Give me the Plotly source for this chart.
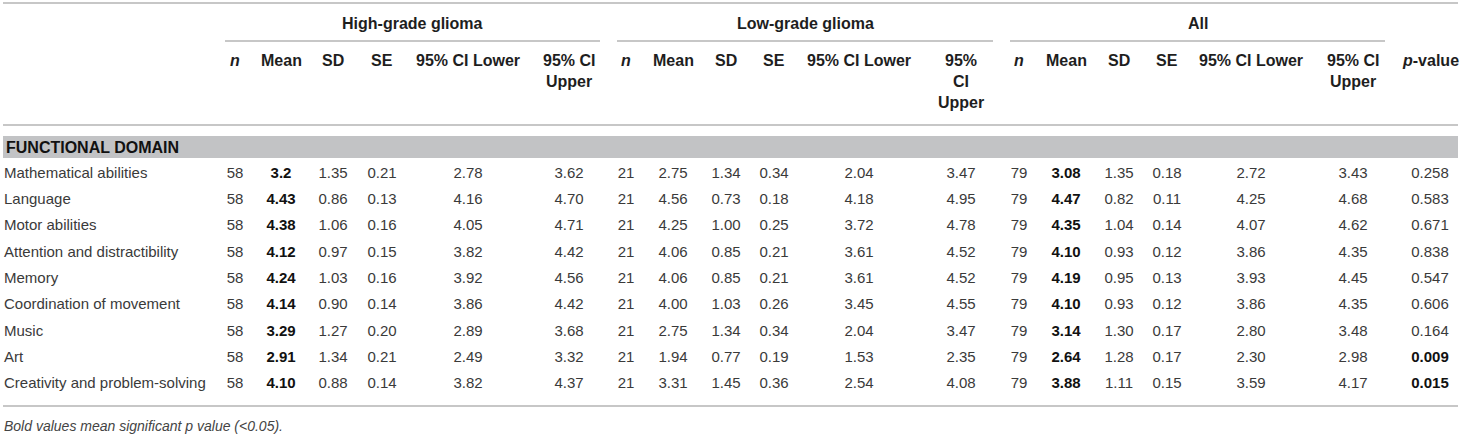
import plotly.graph_objects as go

# table data
domains = ['Mathematical abilities', 'Language', 'Motor abilities',
           'Attention and distractibility', 'Memory', 'Coordination of movement',
           'Music', 'Art', 'Creativity and problem-solving']

hgg_n = ['58'] * 9
hgg_mean = ['3.2', '4.43', '4.38', '4.12', '4.24', '4.14', '3.29', '2.91', '4.10']
hgg_sd = ['1.35', '0.86', '1.06', '0.97', '1.03', '0.90', '1.27', '1.34', '0.88']
hgg_se = ['0.21', '0.13', '0.16', '0.15', '0.16', '0.14', '0.20', '0.21', '0.14']
hgg_lo = ['2.78', '4.16', '4.05', '3.82', '3.92', '3.86', '2.89', '2.49', '3.82']
hgg_hi = ['3.62', '4.70', '4.71', '4.42', '4.56', '4.42', '3.68', '3.32', '4.37']

lgg_n = ['21'] * 9
lgg_mean = ['2.75', '4.56', '4.25', '4.06', '4.06', '4.00', '2.75', '1.94', '3.31']
lgg_sd = ['1.34', '0.73', '1.00', '0.85', '0.85', '1.03', '1.34', '0.77', '1.45']
lgg_se = ['0.34', '0.18', '0.25', '0.21', '0.21', '0.26', '0.34', '0.19', '0.36']
lgg_lo = ['2.04', '4.18', '3.72', '3.61', '3.61', '3.45', '2.04', '1.53', '2.54']
lgg_hi = ['3.47', '4.95', '4.78', '4.52', '4.52', '4.55', '3.47', '2.35', '4.08']

all_n = ['79'] * 9
all_mean = ['3.08', '4.47', '4.35', '4.10', '4.19', '4.10', '3.14', '2.64', '3.88']
all_sd = ['1.35', '0.82', '1.04', '0.93', '0.95', '0.93', '1.30', '1.28', '1.11']
all_se = ['0.18', '0.11', '0.14', '0.12', '0.13', '0.12', '0.17', '0.17', '0.15']
all_lo = ['2.72', '4.25', '4.07', '3.86', '3.93', '3.86', '2.80', '2.30', '3.59']
all_hi = ['3.43', '4.68', '4.62', '4.35', '4.45', '4.35', '3.48', '2.98', '4.17']

p_values = ['0.258', '0.583', '0.671', '0.838', '0.547', '0.606', '0.164', '0.009', '0.015']

groups = ['High-grade glioma', 'Low-grade glioma', 'All']
section = 'FUNCTIONAL DOMAIN'
footnote = 'Bold values mean significant p value (<0.05).'

# layout (pixel positions on a 1462 x 434 canvas)
W, H = 1462, 434
FONT = 'Liberation Sans, Arial, sans-serif'
TXT = '#3a3a3a'
HEAD = '#1e1e1e'
LINE = '#b4b4b4'
row_y0, row_dy = 174, 26.3

columns = [
    # (values, x, bold rule)
    (hgg_n, 235, None), (hgg_mean, 281, 'all'), (hgg_sd, 333, None), (hgg_se, 382, None),
    (hgg_lo, 468, None), (hgg_hi, 569, None),
    (lgg_n, 626, None), (lgg_mean, 673, None), (lgg_sd, 726, None), (lgg_se, 774, None),
    (lgg_lo, 859, None), (lgg_hi, 961, None),
    (all_n, 1019, None), (all_mean, 1066, 'all'), (all_sd, 1119, None), (all_se, 1167, None),
    (all_lo, 1251, None), (all_hi, 1353, None),
    (p_values, 1430, 'sig'),
]

header_cols = [
    (['<i>n</i>'], 235), (['Mean'], 281), (['SD'], 333), (['SE'], 382),
    (['95% CI Lower'], 468), (['95% CI', 'Upper'], 569),
    (['<i>n</i>'], 626), (['Mean'], 673), (['SD'], 726), (['SE'], 774),
    (['95% CI Lower'], 859), (['95%', 'CI', 'Upper'], 961),
    (['<i>n</i>'], 1019), (['Mean'], 1066), (['SD'], 1119), (['SE'], 1167),
    (['95% CI Lower'], 1251), (['95% CI', 'Upper'], 1353),
    (['<i>p</i>-value'], 1430),
]
group_spans = [(225, 600), (617, 993), (1010, 1385)]

row_y = [row_y0 + i * row_dy for i in range(len(domains))]

fig = go.Figure()

# row labels
fig.add_trace(go.Scatter(
    x=[4] * len(domains), y=row_y, text=domains, mode='text',
    textposition='middle right', textfont=dict(family=FONT, size=15, color=TXT),
    hoverinfo='skip', showlegend=False))

# value columns
for vals, cx, rule in columns:
    texts = []
    for v in vals:
        bold = rule == 'all' or (rule == 'sig' and float(v) < 0.05)
        texts.append('<b>%s</b>' % v if bold else v)
    colors = ['#111111' if t.startswith('<b>') else TXT for t in texts]
    fig.add_trace(go.Scatter(
        x=[cx] * len(vals), y=row_y, text=texts, mode='text',
        textposition='middle center', textfont=dict(family=FONT, size=15, color=colors),
        hoverinfo='skip', showlegend=False))

annotations = []
for name, (x0, x1) in zip(groups, group_spans):
    annotations.append(dict(x=(x0 + x1) / 2, y=23, text='<b>%s</b>' % name))
for lines, cx in header_cols:
    for k, line in enumerate(lines):
        annotations.append(dict(x=cx, y=60 + k * 21, text='<b>%s</b>' % line))
for a in annotations:
    a.update(xref='x', yref='y', showarrow=False, xanchor='center', yanchor='middle',
             font=dict(family=FONT, size=16, color=HEAD))

annotations.append(dict(x=4, y=147, xref='x', yref='y', text='<b>%s</b>' % section,
                        showarrow=False, xanchor='left', yanchor='middle',
                        font=dict(family=FONT, size=16, color='#111111')))
annotations.append(dict(x=2, y=426, xref='x', yref='y', text='<i>%s</i>' % footnote,
                        showarrow=False, xanchor='left', yanchor='middle',
                        font=dict(family=FONT, size=14, color='#444444')))

shapes = [
    dict(type='line', x0=3, x1=1458, y0=3, y1=3, line=dict(color=LINE, width=1.5)),
    dict(type='line', x0=3, x1=1458, y0=125, y1=125, line=dict(color=LINE, width=1.5)),
    dict(type='rect', x0=3, x1=1458, y0=136, y1=158, fillcolor='#c2c3c5', line=dict(width=0),
         layer='below'),
    dict(type='line', x0=3, x1=1458, y0=406, y1=406, line=dict(color=LINE, width=1.5)),
]
for x0, x1 in group_spans:
    shapes.append(dict(type='line', x0=x0, x1=x1, y0=41, y1=41, line=dict(color=LINE, width=1.5)))
for s in shapes:
    s.update(xref='x', yref='y')

fig.update_layout(
    width=W, height=H,
    margin=dict(l=0, r=0, t=0, b=0),
    paper_bgcolor='white', plot_bgcolor='white',
    xaxis=dict(range=[0, W], visible=False, fixedrange=True),
    yaxis=dict(range=[H, 0], visible=False, fixedrange=True),
    shapes=shapes, annotations=annotations,
)

# drop the browser's default 8px body margin so the figure sits at the page corner
fig.write_html("out.html", config={'displayModeBar': False},
               post_script="document.body.style.margin='0';document.body.style.overflow='hidden';")
